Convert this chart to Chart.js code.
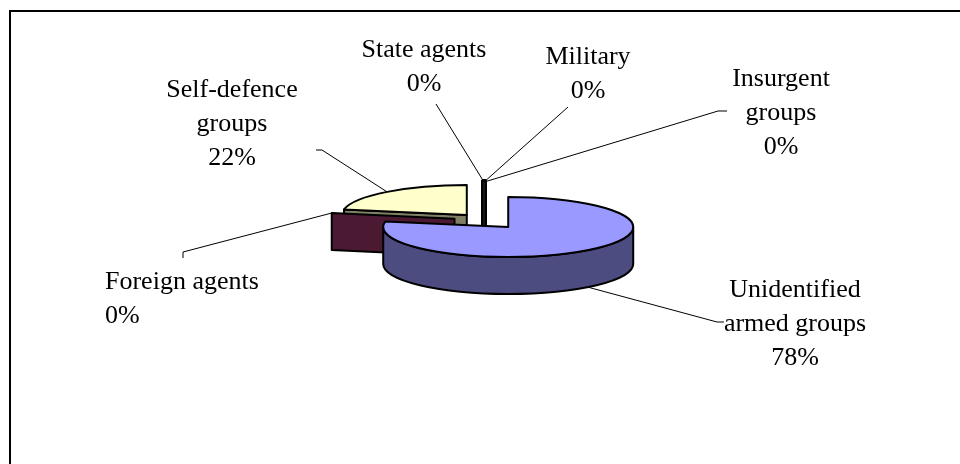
<!DOCTYPE html>
<html><head><meta charset="utf-8">
<script src="https://cdn.jsdelivr.net/npm/chart.js@4/dist/chart.umd.min.js"></script>
<style>html,body{margin:0;padding:0;background:#fff;overflow:hidden}#wrap{position:relative;width:960px;height:464px}</style>
</head><body><div id="wrap"><canvas id="c" width="960" height="464"></canvas></div>
<script>
// ---- data ----
const categories = ["Unidentified armed groups", "Foreign agents", "Self-defence groups", "State agents", "Military", "Insurgent groups"];
const values = [78, 0, 22, 0, 0, 0];
const labelLines = [["Unidentified", "armed groups"], ["Foreign agents"], ["Self-defence", "groups"], ["State agents"], ["Military"], ["Insurgent", "groups"]];

// ---- style ----
const topColors = ['#9999FF', '#993366', '#FFFFCC', '#CCFFFF', '#660066', '#FF8080'];
const sideColors = ['#4C4C80', '#4C1933', '#808066', '#1c2626', '#141414', '#1a1414'];
const explode = [38, 30, 27, 33, 33, 33];
const K = 0.24;      // vertical squash of the pie
const DEPTH = 37;    // extrusion depth
const drawOrder = [3, 4, 5, 2, 1, 0];
const labelLayout = [
  {x: 795, y: 290, align: 'center', lead: [[724, 322], [717, 322]]},
  {x: 105, y: 282, align: 'left',   lead: [[183, 258], [183, 252]]},
  {x: 232, y: 90,  align: 'center', lead: [[316, 150], [322, 150]]},
  {x: 424, y: 50,  align: 'center', lead: [[436, 104]]},
  {x: 588, y: 57,  align: 'center', lead: [[568, 107]]},
  {x: 781, y: 79,  align: 'center', lead: [[727, 111], [718, 111]]}
];
const FONT = '26px "Liberation Serif", "Times New Roman", serif';
const LINE_H = 34;

function sliceGeom(chart, i) {
  const a = chart.getDatasetMeta(0).data[i];
  const p = a.getProps(['x', 'y', 'startAngle', 'endAngle', 'outerRadius'], true);
  const m = (p.startAngle + p.endAngle) / 2;
  return {arc: a, x: p.x, y: p.y, s: p.startAngle, e: p.endAngle, r: p.outerRadius, m,
    ax: p.x + explode[i] * Math.cos(m), ay: p.y + explode[i] * Math.sin(m) * K};
}

function radialFace(ctx, g, t, fill) {
  const px = g.ax + g.r * Math.cos(t), py = g.ay + g.r * Math.sin(t) * K;
  ctx.beginPath();
  ctx.moveTo(g.ax, g.ay); ctx.lineTo(px, py); ctx.lineTo(px, py + DEPTH); ctx.lineTo(g.ax, g.ay + DEPTH);
  ctx.closePath();
  ctx.fillStyle = fill; ctx.fill(); ctx.stroke();
}

const pie3d = {
  id: 'pie3d',
  beforeDatasetsDraw(chart) {
    const ctx = chart.ctx;
    ctx.save();
    ctx.lineJoin = 'round';
    for (const i of drawOrder) {
      const g = sliceGeom(chart, i);
      const zero = Math.abs(g.e - g.s) < 1e-9;
      ctx.strokeStyle = '#000';
      if (zero) {
        const vertical = Math.abs(Math.cos(g.s)) < 0.05;
        ctx.lineWidth = vertical ? 6 : 2;
        radialFace(ctx, g, g.s, sideColors[i]);
        if (vertical) { ctx.lineWidth = 2; ctx.strokeStyle = sideColors[i]; radialFace(ctx, g, g.s, sideColors[i]); }
        continue;
      }
      ctx.lineWidth = 2;
      if (Math.cos(g.s) < -1e-6) radialFace(ctx, g, g.s, sideColors[i]);
      if (Math.cos(g.e) > 1e-6) radialFace(ctx, g, g.e, sideColors[i]);
      const w0 = Math.max(g.s, 0), w1 = Math.min(g.e, Math.PI);
      if (w1 > w0) {
        ctx.beginPath();
        ctx.ellipse(g.ax, g.ay, g.r, g.r * K, 0, w0, w1, false);
        ctx.ellipse(g.ax, g.ay + DEPTH, g.r, g.r * K, 0, w1, w0, true);
        ctx.closePath();
        ctx.fillStyle = sideColors[i]; ctx.fill(); ctx.stroke();
      }
      // top face via the library arc element
      ctx.save();
      ctx.translate(g.ax, g.ay); ctx.scale(1, K); ctx.translate(-g.x, -g.y);
      g.arc.draw(ctx);
      ctx.restore();
      ctx.beginPath();
      ctx.moveTo(g.ax, g.ay);
      ctx.ellipse(g.ax, g.ay, g.r, g.r * K, 0, g.s, g.e, false);
      ctx.closePath();
      ctx.stroke();
    }
    ctx.restore();
    return false;
  },
  afterDraw(chart) {
    const ctx = chart.ctx;
    const total = values.reduce((a, b) => a + b, 0);
    ctx.save();
    // frame
    ctx.strokeStyle = '#000'; ctx.lineWidth = 2;
    ctx.beginPath(); ctx.moveTo(10, 470); ctx.lineTo(10, 11); ctx.lineTo(970, 11); ctx.stroke();
    // labels
    ctx.font = FONT; ctx.fillStyle = '#000'; ctx.textBaseline = 'middle';
    for (let i = 0; i < values.length; i++) {
      const L = labelLayout[i];
      const lines = labelLines[i].concat([Math.round(values[i] / total * 100) + '%']);
      ctx.textAlign = L.align;
      lines.forEach((t, j) => ctx.fillText(t, L.x, L.y + j * LINE_H));
      // leader line to slice
      const g = sliceGeom(chart, i);
      let tx = g.ax + g.r * Math.cos(g.m), ty = g.ay + g.r * Math.sin(g.m) * K;
      if (Math.sin(g.m) > 0.3) ty += DEPTH;
      ctx.lineWidth = 1; ctx.strokeStyle = '#000';
      ctx.beginPath();
      ctx.moveTo(L.lead[0][0], L.lead[0][1]);
      for (let k = 1; k < L.lead.length; k++) ctx.lineTo(L.lead[k][0], L.lead[k][1]);
      ctx.lineTo(tx, ty);
      ctx.stroke();
    }
    ctx.restore();
  }
};

new Chart(document.getElementById('c'), {
  type: 'pie',
  data: {labels: categories, datasets: [{data: values, backgroundColor: topColors, borderWidth: 0, offset: 0, radius: 125}]},
  options: {
    responsive: false, animation: false, events: [],
    layout: {padding: {left: 8, right: 0, top: 0, bottom: 24}},
    plugins: {legend: {display: false}, tooltip: {enabled: false}}
  },
  plugins: [pie3d]
});
</script>
</body></html>
